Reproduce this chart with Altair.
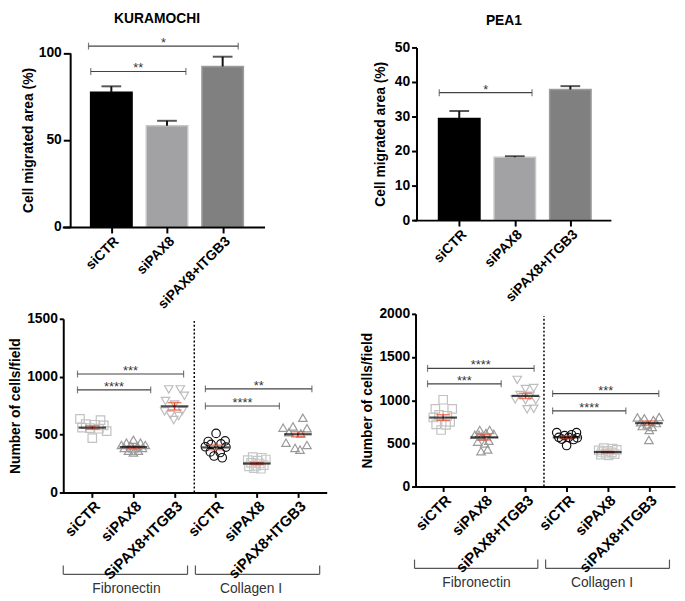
import altair as alt
import pandas as pd

FONT = "Liberation Sans"

# ---------------- data ----------------
bar_groups = ["siCTR", "siPAX8", "siPAX8+ITGB3"]
kura_mean = [77.4, 58.2, 92.2]
kura_sem = [3.4, 2.8, 5.6]
pea_mean = [29.4, 18.2, 37.8]
pea_sem = [2.2, 0.3, 1.0]

kura_title = "KURAMOCHI"
kura_title_x = 0.05
pea_title = "PEA1"
pea_title_x = 0.48

kura_br_x1 = [-0.37, -0.41]
kura_br_x2 = [1.34, 2.28]
kura_br_y = [89.3, 103.9]
kura_br_lab = ["**", "*"]

pea_br_x1 = [-0.36]
pea_br_x2 = [1.31]
pea_br_y = [36.9]
pea_br_lab = ["*"]

bl_tick_labels = ["siCTR", "siPAX8", "SiPAX8+ITGB3", "siCTR", "siPAX8", "siPAX8+ITGB3"]
br_tick_labels = ["siCTR", "siPAX8", "siPAX8+ITGB3", "siCTR", "siPAX8", "siPAX8+ITGB3"]
group_names = ["Fibronectin", "Collagen I"]

# bottom-left (KURAMOCHI cells/field): values and horizontal spread (category units)
bl_vals = [
    [635, 625, 590, 585, 580, 560, 555, 550, 530, 470],
    [455, 430, 430, 410, 405, 400, 410, 385, 380, 385, 360, 360, 345],
    [890, 890, 835, 790, 760, 700, 705, 670, 660, 625],
    [510, 440, 445, 415, 420, 395, 392, 350, 345, 315, 300],
    [305, 300, 280, 275, 285, 255, 250, 230, 235, 225, 210, 205],
    [645, 570, 555, 520, 510, 430, 410, 385, 370, 560],
]
bl_offs = [
    [-0.30, 0.20, -0.16, 0.06, 0.28, -0.25, -0.06, 0.16, 0.35, 0.0],
    [0.0, -0.17, 0.17, -0.29, -0.07, 0.10, 0.29, -0.22, 0.0, 0.22, -0.12, 0.12, 0.0],
    [-0.14, 0.14, 0.24, -0.22, 0.0, -0.24, 0.19, -0.10, 0.10, -0.02],
    [0.01, -0.18, 0.23, -0.11, 0.13, -0.25, 0.25, -0.13, 0.11, -0.04, 0.16],
    [-0.10, 0.12, -0.22, 0.02, 0.22, -0.14, 0.07, -0.02, 0.17, -0.19, -0.07, 0.10],
    [0.12, -0.12, 0.22, -0.22, 0.07, -0.29, 0.22, -0.07, 0.05, -0.36],
]
bl_mean = [560, 392, 744, 389, 250, 503]
bl_sem = [15, 10, 32, 20, 8, 22]
bl_br_x1 = [-0.36, -0.36, 2.75, 2.75]
bl_br_x2 = [2.22, 1.42, 5.34, 4.55]
bl_br_y = [1023, 886, 895, 747]
bl_br_lab = ["***", "****", "**", "****"]
bl_grp_x1 = [-0.706, 2.507]
bl_grp_x2 = [2.316, 5.529]
bl_grp_xc = [0.83, 3.86]

# bottom-right (PEA1 cells/field)
br_vals = [
    [1005, 900, 900, 830, 820, 800, 750, 720, 715, 655],
    [655, 655, 600, 610, 580, 520, 530, 500, 410, 430, 620, 600],
    [1235, 1130, 1140, 1060, 1050, 1010, 1000, 1000, 895, 900],
    [625, 625, 590, 600, 570, 570, 565, 550, 545, 475],
    [445, 440, 420, 415, 425, 400, 395, 380, 375, 360, 370],
    [800, 790, 805, 770, 745, 735, 720, 700, 690, 655, 540],
]
br_offs = [
    [0.0, -0.19, 0.22, -0.10, 0.10, -0.24, 0.17, -0.17, 0.07, -0.05],
    [-0.11, 0.13, -0.23, 0.23, -0.06, -0.16, 0.11, 0.01, -0.08, 0.08, 0.04, -0.13],
    [-0.20, 0.0, 0.20, -0.13, 0.11, -0.25, 0.0, 0.25, 0.04, 0.20],
    [-0.24, 0.24, -0.05, 0.12, -0.19, 0.05, 0.26, -0.12, 0.17, 0.0],
    [-0.10, 0.12, -0.22, 0.0, 0.22, -0.14, 0.10, -0.05, 0.17, 0.02, -0.17],
    [-0.28, -0.11, 0.25, 0.11, -0.20, 0.18, -0.04, -0.16, 0.08, 0.01, 0.0],
]
br_mean = [799, 570, 1050, 570, 399, 734]
br_sem = [33, 30, 30, 15, 8, 25]
br_br_x1 = [-0.38, -0.38, 2.66, 2.66]
br_br_x2 = [2.21, 1.41, 5.24, 4.44]
br_br_y = [1369, 1190, 1076, 876]
br_br_lab = ["****", "***", "***", "****"]
br_grp_x1 = [-0.696, 2.49]
br_grp_x2 = [2.30, 5.50]
br_grp_xc = [0.81, 3.86]

# ---------------- styles ----------------
bar_fill = ["#000000", "#a2a2a5", "#808080"]
bar_edge = ["#000000", "#c6c6c6", "#9c9c9c"]
marker_keys = ["g0", "g1", "g2", "g3", "g4", "g5"]
marker_shapes = ["square", "triangle-up", "triangle-down", "circle", "square", "triangle-up"]
marker_colors = ["#c2c2c2", "#9a9a9a", "#bdbdbd", "#111111", "#c6c6c6", "#9a9a9a"]
RED = "#ec4a2f"


def y_axis(title, values, offset, tick_size, title_pad):
    return alt.Axis(title=title, values=values, tickCount=len(values), format="d",
                    offset=offset, tickSize=tick_size,
                    titlePadding=title_pad, labelPadding=2, grid=False,
                    domainWidth=2, domainColor="black", tickWidth=2, tickColor="black",
                    labelFont=FONT, labelFontSize=14, labelFontWeight="bold", labelColor="black",
                    titleFont=FONT, titleFontSize=14, titleFontWeight="bold", titleColor="black",
                    labelOverlap=False, zindex=1)


def x_axis(labels, tick_size, font_size):
    expr = "[" + ",".join("'" + l + "'" for l in labels) + "][datum.value]"
    return alt.Axis(values=list(range(len(labels))), tickCount=len(labels), labelExpr=expr, title=None,
                    labelAngle=-45, labelAlign="right", labelBaseline="top", labelPadding=1,
                    tickSize=tick_size, tickWidth=2, tickColor="black",
                    domainWidth=2, domainColor="black", grid=False,
                    labelFont=FONT, labelFontSize=font_size, labelFontWeight="bold", labelColor="black",
                    labelFlush=False, labelOverlap=False, zindex=1)


def bracket_layers(x1, x2, y, lab, xs, ys):
    df = pd.DataFrame({"x1": x1, "x2": x2, "y": y, "lab": lab})
    b = alt.Chart(df)
    X1 = alt.X("x1:Q", scale=xs)
    Y = alt.Y("y:Q", scale=ys)
    line = b.mark_rule(color="#444444", strokeWidth=1.2).encode(x=X1, x2="x2:Q", y=Y)
    e1 = b.mark_tick(orient="vertical", size=7, thickness=1.2, color="#444444").encode(x=X1, y=Y)
    e2 = b.mark_tick(orient="vertical", size=7, thickness=1.2, color="#444444").encode(
        x=alt.X("x2:Q", scale=xs), y=Y)
    txt = b.transform_calculate(xm="(datum.x1 + datum.x2) / 2").mark_text(
        font=FONT, fontSize=13, color="#333333", baseline="alphabetic", dy=1).encode(
        x=alt.X("xm:Q", scale=xs), y=Y, text="lab:N")
    return [line, e1, e2, txt]


def bar_panel(title, title_x, title_y, means, sems, width, height, xdom, ydom, yrange, yvals,
              y_off, ytick, xtick, tpad, br):
    df = pd.DataFrame({"i": [0, 1, 2], "g": bar_groups, "m": means, "s": sems})
    xs = alt.Scale(domain=xdom, nice=False, zero=False)
    if yrange is None:
        ys = alt.Scale(domain=ydom, nice=False)
    else:
        ys = alt.Scale(domain=ydom, range=yrange, nice=False)
    base = alt.Chart(df)
    bars = base.mark_bar(orient="vertical", size=42, strokeWidth=1.5).encode(
        x=alt.X("i:Q", scale=xs, axis=x_axis(bar_groups, xtick, 14)),
        y=alt.Y("m:Q", scale=ys, axis=y_axis("Cell migrated area (%)", yvals, y_off, ytick, tpad)),
        color=alt.Color("g:N", scale=alt.Scale(domain=bar_groups, range=bar_fill), legend=None),
        stroke=alt.Stroke("g:N", scale=alt.Scale(domain=bar_groups, range=bar_edge), legend=None),
    )
    eb = base.transform_calculate(t="datum.m + datum.s")
    err = eb.mark_rule(strokeWidth=2, color="#111111").encode(
        x=alt.X("i:Q", scale=xs), y=alt.Y("m:Q", scale=ys), y2="t:Q")
    cap = eb.mark_tick(orient="horizontal", size=20, thickness=2, color="#111111").encode(
        x=alt.X("i:Q", scale=xs), y=alt.Y("t:Q", scale=ys))
    ttl = alt.Chart(pd.DataFrame({"t": [title], "xc": [title_x]})).mark_text(
        font=FONT, fontSize=14, fontWeight="bold", color="black", baseline="top", align="left").encode(
        x=alt.X("xc:Q", scale=xs), y=alt.value(title_y), text="t:N")
    layers = [bars, err, cap] + bracket_layers(*br, xs, ys) + [ttl]
    return alt.layer(*layers).properties(width=width, height=height)


def scatter_panel(vals, offs, means, sems, labels, width, height, xdom, ydom, yrange, yvals,
                  y_off, ytick, xtick, tpad, br, dotted_x, dotted_top, gx1, gx2, gxc, line_y, text_y):
    rows = []
    for k, (vs, os_) in enumerate(zip(vals, offs)):
        for v, o in zip(vs, os_):
            rows.append({"pos": k + o, "val": v, "key": marker_keys[k]})
    pts = pd.DataFrame(rows)
    mdf = pd.DataFrame({"i": list(range(6)), "m": means, "s": sems})
    xs = alt.Scale(domain=xdom, nice=False, zero=False)
    if yrange is None:
        ys = alt.Scale(domain=ydom, nice=False)
    else:
        ys = alt.Scale(domain=ydom, range=yrange, nice=False)

    points = alt.Chart(pts).mark_point(filled=False, size=74, strokeWidth=1.2, opacity=1).encode(
        x=alt.X("pos:Q", scale=xs, axis=x_axis(labels, xtick, 15)),
        y=alt.Y("val:Q", scale=ys, axis=y_axis("Number of cells/field", yvals, y_off, ytick, tpad)),
        shape=alt.Shape("key:N", scale=alt.Scale(domain=marker_keys, range=marker_shapes), legend=None),
        color=alt.Color("key:N", scale=alt.Scale(domain=marker_keys, range=marker_colors), legend=None),
    )
    mb = alt.Chart(mdf).transform_calculate(lo="datum.m - datum.s", hi="datum.m + datum.s")
    XI = alt.X("i:Q", scale=xs)
    sem_rule = mb.mark_rule(color=RED, strokeWidth=1.5).encode(
        x=XI, y=alt.Y("lo:Q", scale=ys), y2="hi:Q")
    cap_lo = mb.mark_tick(orient="horizontal", size=14, thickness=1.5, color=RED).encode(
        x=XI, y=alt.Y("lo:Q", scale=ys))
    cap_hi = mb.mark_tick(orient="horizontal", size=14, thickness=1.5, color=RED).encode(
        x=XI, y=alt.Y("hi:Q", scale=ys))
    mean_line = mb.mark_tick(orient="horizontal", size=28, thickness=2.2, color="black").encode(
        x=XI, y=alt.Y("m:Q", scale=ys))
    dotted = alt.Chart(pd.DataFrame({"d": [dotted_x], "t": [dotted_top]})).mark_rule(
        color="black", strokeWidth=1.5, strokeDash=[2, 2]).encode(
        x=alt.X("d:Q", scale=xs), y=alt.datum(0), y2=alt.datum(dotted_top))
    gdf = pd.DataFrame({"name": group_names, "x1": gx1, "x2": gx2, "xc": gxc})
    g = alt.Chart(gdf)
    gline = g.mark_rule(color="#555555", strokeWidth=1.2).encode(
        x=alt.X("x1:Q", scale=xs), x2="x2:Q", y=alt.value(line_y))
    gend1 = g.mark_rule(color="#555555", strokeWidth=1.2).encode(
        x=alt.X("x1:Q", scale=xs), y=alt.value(line_y - 9), y2=alt.value(line_y))
    gend2 = g.mark_rule(color="#555555", strokeWidth=1.2).encode(
        x=alt.X("x2:Q", scale=xs), y=alt.value(line_y - 9), y2=alt.value(line_y))
    gtxt = g.mark_text(font=FONT, fontSize=14, color="#333333", baseline="alphabetic").encode(
        x=alt.X("xc:Q", scale=xs), y=alt.value(text_y), text="name:N")
    layers = [points, dotted, sem_rule, cap_lo, cap_hi, mean_line] + bracket_layers(*br, xs, ys) + \
             [gline, gend1, gend2, gtxt]
    return alt.layer(*layers).properties(width=width, height=height)


tl = bar_panel(kura_title, kura_title_x, -36, kura_mean, kura_sem, 205, 182, [-0.793, 2.664],
               [0, 100], [182, 5.5], [0, 50, 100], -8, 7, 6, 3,
               (kura_br_x1, kura_br_x2, kura_br_y, kura_br_lab))
tr = bar_panel(pea_title, pea_title_x, -34, pea_mean, pea_sem, 200, 175, [-0.734, 2.641],
               [0, 50], None, [0, 10, 20, 30, 40, 50], -3, 5, 6, 7,
               (pea_br_x1, pea_br_x2, pea_br_y, pea_br_lab))
bl = scatter_panel(bl_vals, bl_offs, bl_mean, bl_sem, bl_tick_labels, 268, 181,
                   [-0.73, 5.70], [0, 1500], [181, 5], [0, 500, 1000, 1500],
                   -1, 4, 5, 4, (bl_br_x1, bl_br_x2, bl_br_y, bl_br_lab), 2.48, 1480,
                   bl_grp_x1, bl_grp_x2, bl_grp_xc, 264, 283)
br = scatter_panel(br_vals, br_offs, br_mean, br_sem, br_tick_labels, 265, 175,
                   [-0.72, 5.635], [0, 2000], None, [0, 500, 1000, 1500, 2000],
                   -2, 4, 5, 4, (br_br_x1, br_br_x2, br_br_y, br_br_lab), 2.45, 1975,
                   br_grp_x1, br_grp_x2, br_grp_xc, 258, 277)

chart = alt.concat(tl, tr, bl, br, columns=2, spacing={"row": 88, "column": 88},
                   bounds="flush", align="all").resolve_scale(
    color="independent", stroke="independent", shape="independent"
).properties(
    padding={"left": 0, "top": 0, "right": 2, "bottom": 0}
).configure_view(stroke=None)

chart.save("out.html", embed_options={"renderer": "svg", "actions": False})
